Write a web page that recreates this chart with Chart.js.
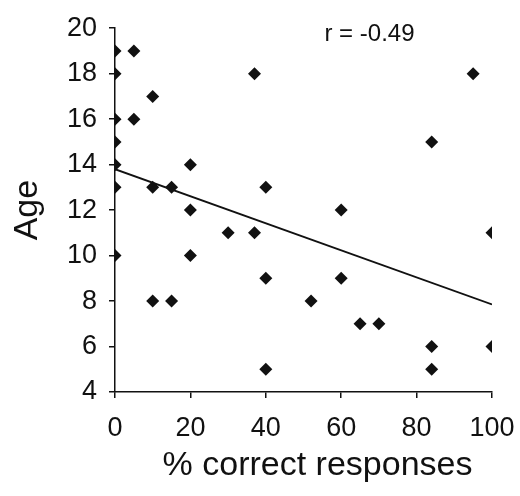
<!DOCTYPE html>
<html>
<head>
<meta charset="utf-8">
<script src="https://cdn.jsdelivr.net/npm/chart.js@4.4.1/dist/chart.umd.min.js"></script>
<style>
    html, body { margin: 0; padding: 0; background: #fff; }
    #wrap { width: 520px; height: 496px; }
</style>
</head>
<body>
<div id="wrap"><canvas id="ageChart"></canvas></div>
<script>
// % correct responses vs age, one entry per subject
let percentCorrect = [0, 0, 0, 0, 0, 0, 0, 5, 5, 10, 10, 10, 15, 15, 20, 20, 20, 30, 37, 37, 40, 40, 40, 52, 60, 60, 65, 70, 84, 84, 84, 95, 100, 100]
let ages = [19, 18, 16, 15, 14, 13, 10, 19, 16, 17, 13, 8, 13, 8, 14, 12, 10, 11, 18, 11, 13, 9, 5, 8, 12, 9, 7, 7, 15, 6, 5, 18, 11, 6]

// fitted line end points
let fitX = [0, 100]
let fitY = [13.8, 7.85]

let xTicks = [0, 20, 40, 60, 80, 100]
let yTicks = [4, 6, 8, 10, 12, 14, 16, 18, 20]
let rLabel = "r = -0.49"
let xTitle = "% correct responses"

const font = "'Liberation Sans', Arial, Helvetica, sans-serif"
const ink = "#111"

let points = percentCorrect.map((p, i) => ({ x: p, y: ages[i] }))
let fit = fitX.map((x, i) => ({ x: x, y: fitY[i] }))

// r value and x title, drawn on the canvas
const labels = {
    id: "labels",
    afterDatasetsDraw(chart) {
        const ctx = chart.ctx
        const area = chart.chartArea
        ctx.save()
        ctx.fillStyle = ink
        ctx.textAlign = "center"
        ctx.textBaseline = "middle"
        ctx.font = `24px ${font}`
        ctx.fillText(rLabel, chart.scales.x.getPixelForValue(67.5), chart.scales.y.getPixelForValue(19.75))
        ctx.font = `34px ${font}`
        ctx.fillText(xTitle, (area.left + area.right) / 2 + 14, chart.height - 30)
        ctx.restore()
    }
}

const ctx = document.getElementById("ageChart").getContext("2d")

new Chart(ctx, {
    type: "scatter",
    data: {
        datasets: [
            {
                data: points,
                pointStyle: "rectRot",
                pointRadius: 6.5,
                pointBackgroundColor: ink,
                pointBorderColor: ink,
                pointBorderWidth: 0,
                showLine: false
            },
            {
                type: "line",
                data: fit,
                borderColor: ink,
                borderWidth: 1.8,
                pointRadius: 0,
                fill: false
            }
        ]
    },
    options: {
        responsive: true,
        maintainAspectRatio: false,
        animation: false,
        layout: { padding: { top: 23, right: 28, bottom: 0, left: 0 } },
        plugins: {
            legend: { display: false },
            tooltip: { enabled: false }
        },
        scales: {
            x: {
                type: "linear",
                min: 0,
                max: 100,
                afterFit(scale) {
                    scale.height = 104
                    scale.paddingLeft = 0
                    scale.paddingRight = 0
                },
                afterBuildTicks(scale) { scale.ticks = xTicks.map(v => ({ value: v })) },
                grid: { drawOnChartArea: false, drawTicks: true, tickLength: 6, color: ink, lineWidth: 1.5 },
                border: { display: true, color: ink, width: 1.5 },
                ticks: { color: ink, padding: 14, font: { family: font, size: 27 }, maxRotation: 0 },
                title: { display: false }
            },
            y: {
                type: "linear",
                min: 4,
                max: 20,
                afterFit(scale) { scale.width = 115 },
                afterBuildTicks(scale) { scale.ticks = yTicks.map(v => ({ value: v })) },
                grid: { drawOnChartArea: false, drawTicks: true, tickLength: 6, color: ink, lineWidth: 1.5 },
                border: { display: true, color: ink, width: 1.5 },
                ticks: { color: ink, padding: 12, font: { family: font, size: 27 } },
                title: { display: true, text: "Age", color: ink, font: { family: font, size: 34 }, padding: { top: 7, bottom: 0 } }
            }
        }
    },
    plugins: [labels]
})
</script>
</body>
</html>
